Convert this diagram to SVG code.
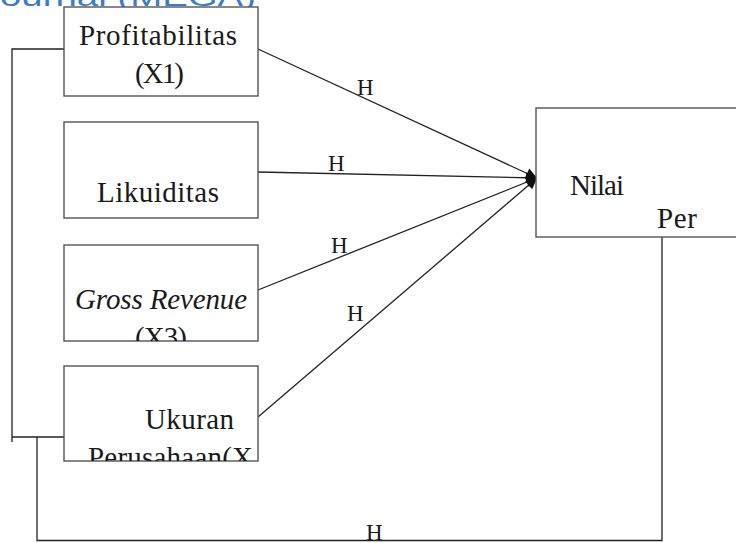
<svg xmlns="http://www.w3.org/2000/svg" width="736" height="543" viewBox="0 0 736 543">
<style>
.box{fill:#fff;stroke:#555;stroke-width:1.4}
.t{font-family:"Liberation Serif","Times New Roman",serif;font-size:29px;fill:#1a1a1a}
.h{font-family:"Liberation Serif","Times New Roman",serif;font-size:23px;fill:#1a1a1a}
.ln{fill:none;stroke:#222;stroke-width:1.3}
.title{font-family:"Liberation Sans",Arial,sans-serif;font-size:27px;fill:#3b7dc8}
</style>
<defs>
<marker id="arr" viewBox="0 0 10 10" refX="10" refY="5" markerWidth="13" markerHeight="11" markerUnits="userSpaceOnUse" orient="auto">
<path d="M0,0 L10,5 L0,10 z" fill="#111"/>
</marker>
<clipPath id="c1"><rect x="64" y="7" width="194" height="89"/></clipPath>
<clipPath id="c2"><rect x="64" y="122" width="194" height="96"/></clipPath>
<clipPath id="c3"><rect x="64" y="245" width="194" height="96"/></clipPath>
<clipPath id="c4"><rect x="64" y="366" width="194" height="95"/></clipPath>
<clipPath id="c5"><rect x="536" y="108" width="220" height="129"/></clipPath>
</defs>
<text class="title" x="0" y="6" textLength="256" lengthAdjust="spacingAndGlyphs">ournal (MEGA)</text>
<g id="connectors">
<polyline class="ln" points="64,49 12,49 12,442"/>
<line class="ln" x1="12" y1="437" x2="64" y2="437"/>
<polyline class="ln" points="37,437 37,540.5 662,540.5 662,237"/>
<line class="ln" x1="258" y1="49" x2="537" y2="178" marker-end="url(#arr)"/>
<line class="ln" x1="258" y1="172" x2="537" y2="178" marker-end="url(#arr)"/>
<line class="ln" x1="258" y1="290" x2="537" y2="178" marker-end="url(#arr)"/>
<line class="ln" x1="258" y1="417" x2="537" y2="178" marker-end="url(#arr)"/>
<text class="h" x="357" y="95" textLength="16">H</text>
<text class="h" x="328" y="171" textLength="16">H</text>
<text class="h" x="331" y="253" textLength="16">H</text>
<text class="h" x="347" y="321" textLength="16">H</text>
<text class="h" x="366" y="540" textLength="15">H</text>
</g>
<g id="n1">
<rect class="box" x="64" y="7" width="194" height="89"/>
<g clip-path="url(#c1)">
<text class="t" x="79" y="45" textLength="158">Profitabilitas</text>
<text class="t" x="135" y="83" textLength="49">(X1)</text>
</g>
</g>
<g id="n2">
<rect class="box" x="64" y="122" width="194" height="96"/>
<g clip-path="url(#c2)">
<text class="t" x="97" y="202" textLength="122">Likuiditas</text>
<text class="t" x="101" y="240" textLength="48">(X2)</text>
</g>
</g>
<g id="n3">
<rect class="box" x="64" y="245" width="194" height="96"/>
<g clip-path="url(#c3)">
<text class="t" x="75" y="309" textLength="172" font-style="italic">Gross Revenue</text>
<text class="t" x="135" y="347" textLength="52">(X3)</text>
</g>
</g>
<g id="n4">
<rect class="box" x="64" y="366" width="194" height="95"/>
<g clip-path="url(#c4)">
<text class="t" x="145" y="429" textLength="89">Ukuran</text>
<text class="t" x="88" y="467" textLength="165">Perusahaan(X</text>
</g>
</g>
<g id="n5">
<rect class="box" x="536" y="108" width="220" height="129"/>
<g clip-path="url(#c5)">
<text class="t" x="570" y="195" textLength="54">Nilai</text>
<text class="t" x="657" y="228" textLength="40">Per</text>
</g>
</g>
</svg>
